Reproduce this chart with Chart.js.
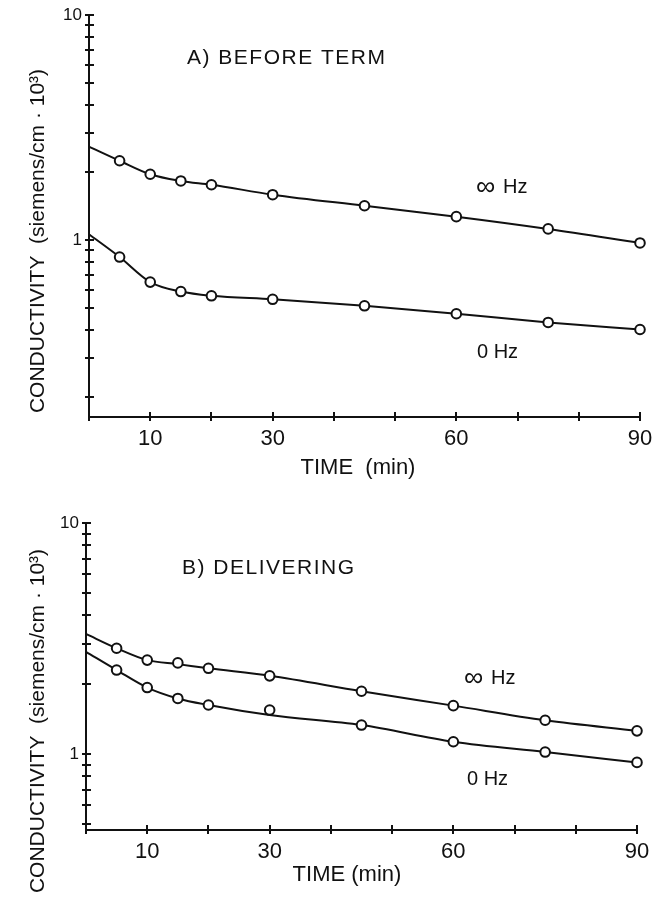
<!DOCTYPE html>
<html><head><meta charset="utf-8">
<script src="https://cdn.jsdelivr.net/npm/chart.js@4"></script>
<style>
html,body{margin:0;padding:0;background:#fff;}
#wrap{position:relative;width:652px;height:898px;overflow:hidden;background:#fff;}
canvas{position:absolute;left:0;}
#cA{top:0;} #cB{top:490px;}
</style></head><body>
<div id="wrap"><canvas id="cA" width="652" height="490"></canvas><canvas id="cB" width="652" height="408"></canvas></div>
<script>
// ---- data ----
const times = [5, 10, 15, 20, 30, 45, 60, 75, 90];
const curveTimes = [0, 5, 10, 15, 20, 30, 45, 60, 75, 90];
const xTickValues = [0, 10, 20, 30, 40, 50, 60, 70, 80, 90];
const xTickLabels = ['10', '30', '60', '90'];
const yTickLabels = ['10', '1'];
const yTicksA = [10, 9, 8, 7, 6, 5, 4, 3, 2, 1, 0.9, 0.8, 0.7, 0.6, 0.5, 0.4, 0.3, 0.2];
const yTicksB = [10, 9, 8, 7, 6, 5, 4, 3, 2, 1, 0.9, 0.8, 0.7, 0.6, 0.5];
// Panel A: before term
const aInfHz = [2.25, 1.96, 1.83, 1.76, 1.59, 1.42, 1.27, 1.12, 0.97];
const aZeroHz = [0.84, 0.65, 0.59, 0.565, 0.545, 0.51, 0.47, 0.43, 0.40];
const aInfCurve = [2.60, 2.25, 1.96, 1.83, 1.76, 1.59, 1.42, 1.27, 1.12, 0.97];
const aZeroCurve = [1.06, 0.84, 0.65, 0.59, 0.565, 0.545, 0.51, 0.47, 0.43, 0.40];
// Panel B: delivering
const bInfHz = [2.87, 2.55, 2.48, 2.35, 2.18, 1.87, 1.62, 1.40, 1.26];
const bZeroHz = [2.31, 1.94, 1.74, 1.63, 1.55, 1.335, 1.13, 1.02, 0.92];
const bInfCurve = [3.31, 2.87, 2.55, 2.45, 2.35, 2.18, 1.87, 1.62, 1.40, 1.26];
const bZeroCurve = [2.77, 2.31, 1.94, 1.74, 1.63, 1.475, 1.335, 1.13, 1.02, 0.92];

const INK = '#111';
const FONT = '"Liberation Sans", Arial, sans-serif';

function pts(xs, ys) { return xs.map((x, i) => ({ x: x, y: ys[i] })); }

const crossTicks = {
  id: 'crossTicks',
  afterDraw(chart) {
    const ctx = chart.ctx, ca = chart.chartArea;
    const xs = chart.scales.x, ys = chart.scales.y;
    ctx.save();
    ctx.strokeStyle = INK; ctx.lineWidth = 2;
    ys.ticks.forEach(t => {
      const p = Math.round(ys.getPixelForValue(t.value));
      ctx.beginPath(); ctx.moveTo(ca.left - 4, p); ctx.lineTo(ca.left + 5, p); ctx.stroke();
    });
    xs.ticks.forEach(t => {
      const p = Math.round(xs.getPixelForValue(t.value));
      ctx.beginPath(); ctx.moveTo(p, ca.bottom - 5); ctx.lineTo(p, ca.bottom + 4); ctx.stroke();
    });
    ctx.restore();
  }
};

const texts = {
  id: 'texts',
  afterDraw(chart, args, opts) {
    const ctx = chart.ctx;
    (opts.items || []).forEach(it => {
      ctx.save();
      ctx.fillStyle = INK;
      ctx.font = (it.size || 20) + 'px ' + FONT;
      ctx.textBaseline = 'middle';
      ctx.textAlign = it.align || 'left';
      if (it.spacing) ctx.letterSpacing = it.spacing + 'px';
      ctx.translate(it.x, it.y);
      if (it.rotate) ctx.rotate(it.rotate);
      ctx.fillText(it.text, 0, 0);
      ctx.restore();
    });
  }
};

function makeChart(canvasId, cfg) {
  const datasets = [
    { data: pts(times, cfg.inf), showLine: false, pointRadius: 4.8, pointBorderWidth: 2,
      pointBackgroundColor: '#fff', pointBorderColor: INK, clip: false, order: 0 },
    { data: pts(times, cfg.zero), showLine: false, pointRadius: 4.8, pointBorderWidth: 2,
      pointBackgroundColor: '#fff', pointBorderColor: INK, clip: false, order: 0 },
    { data: pts(curveTimes, cfg.infCurve), showLine: true, pointRadius: 0, borderColor: INK,
      borderWidth: 2, cubicInterpolationMode: 'monotone', clip: false, order: 1 },
    { data: pts(curveTimes, cfg.zeroCurve), showLine: true, pointRadius: 0, borderColor: INK,
      borderWidth: 2, cubicInterpolationMode: 'monotone', clip: false, order: 1 }
  ];
  return new Chart(document.getElementById(canvasId), {
    type: 'scatter',
    data: { datasets },
    plugins: [crossTicks, texts],
    options: {
      responsive: false, animation: false, events: [],
      layout: { padding: cfg.padding },
      plugins: { legend: { display: false }, tooltip: { enabled: false },
        texts: { items: cfg.texts } },
      scales: {
        x: {
          type: 'linear', min: 0, max: 90,
          grid: { display: false, drawTicks: false },
          border: { display: true, color: INK, width: 2 },
          afterBuildTicks: s => { s.ticks = xTickValues.map(v => ({ value: v })); },
          afterFit: s => { s.height = cfg.xHeight; s.paddingLeft = 0; s.paddingRight = 0; },
          ticks: {
            autoSkip: false, maxRotation: 0, padding: 9, color: INK,
            font: { family: FONT, size: 22 },
            callback: v => xTickLabels.includes(String(v)) ? String(v) : ''
          }
        },
        y: {
          type: 'logarithmic', min: cfg.yMin, max: 10,
          grid: { display: false, drawTicks: false },
          border: { display: true, color: INK, width: 2 },
          afterBuildTicks: s => { s.ticks = cfg.yTicks.map(v => ({ value: v })); },
          afterFit: s => { s.width = cfg.yWidth; s.paddingTop = 0; s.paddingBottom = 0; },
          ticks: {
            autoSkip: false, padding: 7, color: INK,
            font: { family: FONT, size: 17 },
            callback: v => yTickLabels.includes(String(v)) ? String(v) : ''
          }
        }
      }
    }
  });
}

const yTitle = 'CONDUCTIVITY  (siemens/cm \u00b7 10\u00b3)';

makeChart('cA', {
  inf: aInfHz, zero: aZeroHz, infCurve: aInfCurve, zeroCurve: aZeroCurve,
  yTicks: yTicksA, yMin: 0.1634,
  padding: { top: 15, right: 12, left: 0, bottom: 0 },
  yWidth: 89, xHeight: 73,
  texts: [
    { text: 'A) BEFORE TERM', x: 187, y: 58, size: 21, spacing: 1.5 },
    { text: '\u221e', x: 476, y: 188, size: 27 },
    { text: 'Hz', x: 503, y: 187, size: 20 },
    { text: '0 Hz', x: 477, y: 352, size: 20 },
    { text: 'TIME  (min)', x: 358, y: 468, size: 22, align: 'center' },
    { text: yTitle, x: 38, y: 241, size: 21, align: 'center', rotate: -Math.PI / 2 }
  ]
});

makeChart('cB', {
  inf: bInfHz, zero: bZeroHz, infCurve: bInfCurve, zeroCurve: bZeroCurve,
  yTicks: yTicksB, yMin: 0.469,
  padding: { top: 33, right: 15, left: 0, bottom: 0 },
  yWidth: 86, xHeight: 68,
  texts: [
    { text: 'B) DELIVERING', x: 182, y: 78, size: 21, spacing: 1.5 },
    { text: '\u221e', x: 464, y: 189, size: 27 },
    { text: 'Hz', x: 491, y: 188, size: 20 },
    { text: '0 Hz', x: 467, y: 289, size: 20 },
    { text: 'TIME (min)', x: 347, y: 385, size: 22, align: 'center' },
    { text: yTitle, x: 38, y: 231, size: 21, align: 'center', rotate: -Math.PI / 2 }
  ]
});
</script>
</body></html>
